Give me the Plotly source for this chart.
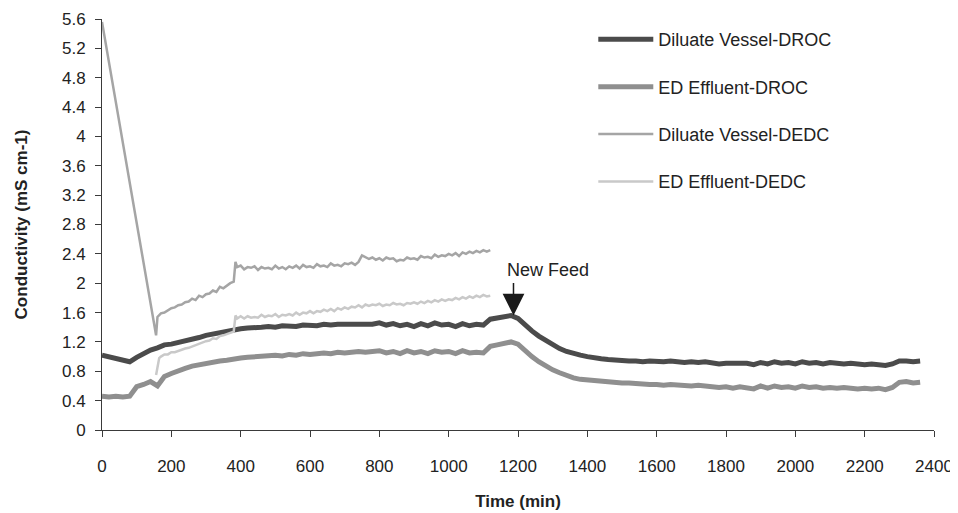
import plotly.graph_objects as go

# ---------------- data ----------------
droc_time = list(range(0, 2380, 20))

diluate_droc = [
    1.02, 1.00, 0.98, 0.96, 0.93, 0.99, 1.05, 1.09, 1.12, 1.16,
    1.17, 1.19, 1.22, 1.24, 1.26, 1.29, 1.31, 1.33, 1.35, 1.37,
    1.38, 1.39, 1.39, 1.40, 1.41, 1.40, 1.42, 1.42, 1.41, 1.43,
    1.43, 1.42, 1.44, 1.43, 1.44, 1.44, 1.45, 1.44, 1.45, 1.44,
    1.46, 1.43, 1.45, 1.42, 1.44, 1.41, 1.45, 1.42, 1.46, 1.43,
    1.44, 1.41, 1.45, 1.42, 1.44, 1.43, 1.51, 1.53, 1.54, 1.56,
    1.52, 1.43, 1.35, 1.28, 1.22, 1.16, 1.11, 1.07, 1.04, 1.02,
    1.00, 0.98, 0.97, 0.96, 0.95, 0.95, 0.94, 0.94, 0.93, 0.94,
    0.93, 0.93, 0.94, 0.93, 0.92, 0.93, 0.92, 0.93, 0.92, 0.90,
    0.91, 0.91, 0.90, 0.91, 0.89, 0.92, 0.90, 0.93, 0.91, 0.92,
    0.90, 0.93, 0.91, 0.92, 0.90, 0.92, 0.91, 0.90, 0.91, 0.90,
    0.89, 0.90, 0.89, 0.88, 0.90, 0.94, 0.94, 0.93, 0.94,
]

effluent_droc = [
    0.46, 0.45, 0.46, 0.45, 0.46, 0.59, 0.62, 0.66, 0.60, 0.73,
    0.77, 0.81, 0.84, 0.87, 0.89, 0.91, 0.92, 0.94, 0.95, 0.97,
    0.98, 0.99, 1.00, 1.00, 1.01, 1.02, 1.01, 1.03, 1.02, 1.04,
    1.03, 1.04, 1.05, 1.04, 1.06, 1.05, 1.06, 1.07, 1.06, 1.07,
    1.08, 1.05, 1.07, 1.04, 1.08, 1.05, 1.07, 1.04, 1.08, 1.06,
    1.07, 1.04, 1.08, 1.05, 1.06, 1.05, 1.14, 1.16, 1.18, 1.20,
    1.17, 1.08, 1.00, 0.93, 0.87, 0.82, 0.78, 0.74, 0.71, 0.69,
    0.68, 0.67, 0.66, 0.65, 0.65, 0.64, 0.64, 0.63, 0.63, 0.62,
    0.62, 0.61, 0.62, 0.61, 0.61, 0.60, 0.61, 0.60, 0.58, 0.58,
    0.59, 0.57, 0.59, 0.58, 0.56, 0.60, 0.57, 0.60, 0.58, 0.59,
    0.57, 0.60, 0.58, 0.59, 0.57, 0.58, 0.57, 0.58, 0.57, 0.56,
    0.57, 0.56, 0.57, 0.55, 0.58, 0.65, 0.66, 0.64, 0.65,
]

dedc_time_diluate = [0, 156] + list(range(160, 390, 10))[:23] + [385] + list(range(390, 1130, 10))
diluate_dedc = [
    5.56, 1.29,
    1.54, 1.59, 1.60, 1.63, 1.66, 1.67, 1.70, 1.71, 1.74, 1.75,
    1.79, 1.77, 1.83, 1.81, 1.85, 1.86, 1.90, 1.88, 1.95, 1.93,
    1.97, 2.00, 2.02,
    2.29,
    2.22, 2.24, 2.19, 2.22, 2.21, 2.23, 2.18, 2.22, 2.20, 2.21,
    2.19, 2.24, 2.20, 2.22, 2.19, 2.23, 2.21, 2.24, 2.20, 2.25,
    2.22, 2.23, 2.21, 2.26, 2.23, 2.24, 2.22, 2.27, 2.24, 2.25,
    2.23, 2.27, 2.26, 2.28, 2.25, 2.29, 2.38, 2.36, 2.33, 2.35,
    2.32, 2.34, 2.31, 2.35, 2.33, 2.34, 2.30, 2.32, 2.31, 2.35,
    2.33, 2.34, 2.32, 2.37, 2.35, 2.36, 2.34, 2.39, 2.36, 2.38,
    2.37, 2.40, 2.38, 2.41, 2.37, 2.42, 2.40, 2.43, 2.41, 2.44,
    2.42, 2.45, 2.43, 2.45,
]

dedc_time_effluent = [156, 165] + list(range(170, 390, 10)) + [385] + list(range(390, 1130, 10))
effluent_dedc = [
    0.75, 0.98,
    1.00, 1.03, 1.03, 1.06, 1.06, 1.08, 1.09, 1.11, 1.12, 1.14,
    1.15, 1.18, 1.19, 1.21, 1.22, 1.25, 1.24, 1.28, 1.29, 1.31,
    1.33, 1.34,
    1.56,
    1.52, 1.55, 1.52, 1.55, 1.53, 1.54, 1.53, 1.57, 1.54, 1.56,
    1.55, 1.58, 1.54, 1.57, 1.56, 1.58, 1.56, 1.60, 1.57, 1.60,
    1.59, 1.62, 1.59, 1.62, 1.61, 1.64, 1.62, 1.65, 1.62, 1.66,
    1.64, 1.67, 1.65, 1.68, 1.67, 1.70, 1.67, 1.71, 1.69, 1.71,
    1.70, 1.72, 1.69, 1.71, 1.70, 1.73, 1.71, 1.72, 1.70, 1.73,
    1.72, 1.74, 1.72, 1.75, 1.73, 1.76, 1.74, 1.77, 1.75, 1.78,
    1.76, 1.78, 1.77, 1.80, 1.78, 1.81, 1.79, 1.82, 1.80, 1.83,
    1.81, 1.84, 1.82, 1.83,
]

x_ticks = [0, 200, 400, 600, 800, 1000, 1200, 1400, 1600, 1800, 2000, 2200, 2400]
y_ticks = [0, 0.4, 0.8, 1.2, 1.6, 2.0, 2.4, 2.8, 3.2, 3.6, 4.0, 4.4, 4.8, 5.2, 5.6]
y_tick_text = ["0", "0.4", "0.8", "1.2", "1.6", "2", "2.4", "2.8", "3.2", "3.6",
               "4", "4.4", "4.8", "5.2", "5.6"]

new_feed_time = 1187
new_feed_value = 1.56

# ---------------- figure ----------------
n1 = min(len(dedc_time_diluate), len(diluate_dedc))
n2 = min(len(dedc_time_effluent), len(effluent_dedc))

fig = go.Figure()
fig.add_trace(go.Scatter(x=droc_time[:len(diluate_droc)], y=diluate_droc, mode="lines",
                         name="Diluate Vessel-DROC", legendgroup="a",
                         line=dict(color="#4b4b4b", width=5)))
fig.add_trace(go.Scatter(x=droc_time[:len(effluent_droc)], y=effluent_droc, mode="lines",
                         name="ED Effluent-DROC", legendgroup="b",
                         line=dict(color="#8f8f8f", width=5)))
fig.add_trace(go.Scatter(x=dedc_time_diluate[:n1], y=diluate_dedc[:n1], mode="lines",
                         name="Diluate Vessel-DEDC", legendgroup="c",
                         line=dict(color="#a5a5a5", width=2.5)))
fig.add_trace(go.Scatter(x=dedc_time_effluent[:n2], y=effluent_dedc[:n2], mode="lines",
                         name="ED Effluent-DEDC", legendgroup="d",
                         line=dict(color="#c9c9c9", width=2.5)))

FONT = "Liberation Sans, Arial"
fig.add_annotation(x=new_feed_time, y=new_feed_value, text="", showarrow=True,
                   ax=0, ay=-34, arrowhead=2, arrowsize=2.9, arrowwidth=1.5,
                   arrowcolor="#1a1a1a", standoff=0)
fig.add_annotation(x=new_feed_time, y=new_feed_value, text="New Feed", showarrow=False,
                   xanchor="left", yanchor="bottom", xshift=-8, yshift=34,
                   font=dict(family=FONT, size=18, color="#222222"))

axis_font = dict(family=FONT, size=17, color="#222222")
title_font = dict(family=FONT, size=17, color="#222222")
# page body has an 8px default margin, so the figure is sized/offset to compensate
fig.update_layout(
    width=950, height=505,
    margin=dict(l=94, r=24, t=11, b=83),
    paper_bgcolor="white", plot_bgcolor="white",
    font=axis_font,
    showlegend=True,
    legend=dict(x=0.5905, y=0.995, xanchor="left", yanchor="top",
                font=dict(family=FONT, size=18, color="#222222"),
                tracegroupgap=21, itemwidth=55, bgcolor="rgba(0,0,0,0)"),
    xaxis=dict(range=[0, 2400], tickvals=x_ticks, showgrid=False, zeroline=False,
               showline=True, linecolor="#3a3a3a", linewidth=1, automargin=False,
               ticks="outside", ticklen=6, tickcolor="#3a3a3a",
               ticklabelstandoff=15, tickfont=axis_font,
               title=dict(text="<b>Time (min)</b>", standoff=19, font=title_font)),
    yaxis=dict(range=[0, 5.6], tickvals=y_ticks, ticktext=y_tick_text, showgrid=False,
               zeroline=False, showline=True, linecolor="#3a3a3a", linewidth=1,
               automargin=False,
               ticks="outside", ticklen=6, tickcolor="#3a3a3a", tickfont=axis_font,
               ticklabelstandoff=6,
               title=dict(text="<b>Conductivity (mS cm-1)</b>", standoff=30, font=title_font)),
)

fig.write_html("out.html")
